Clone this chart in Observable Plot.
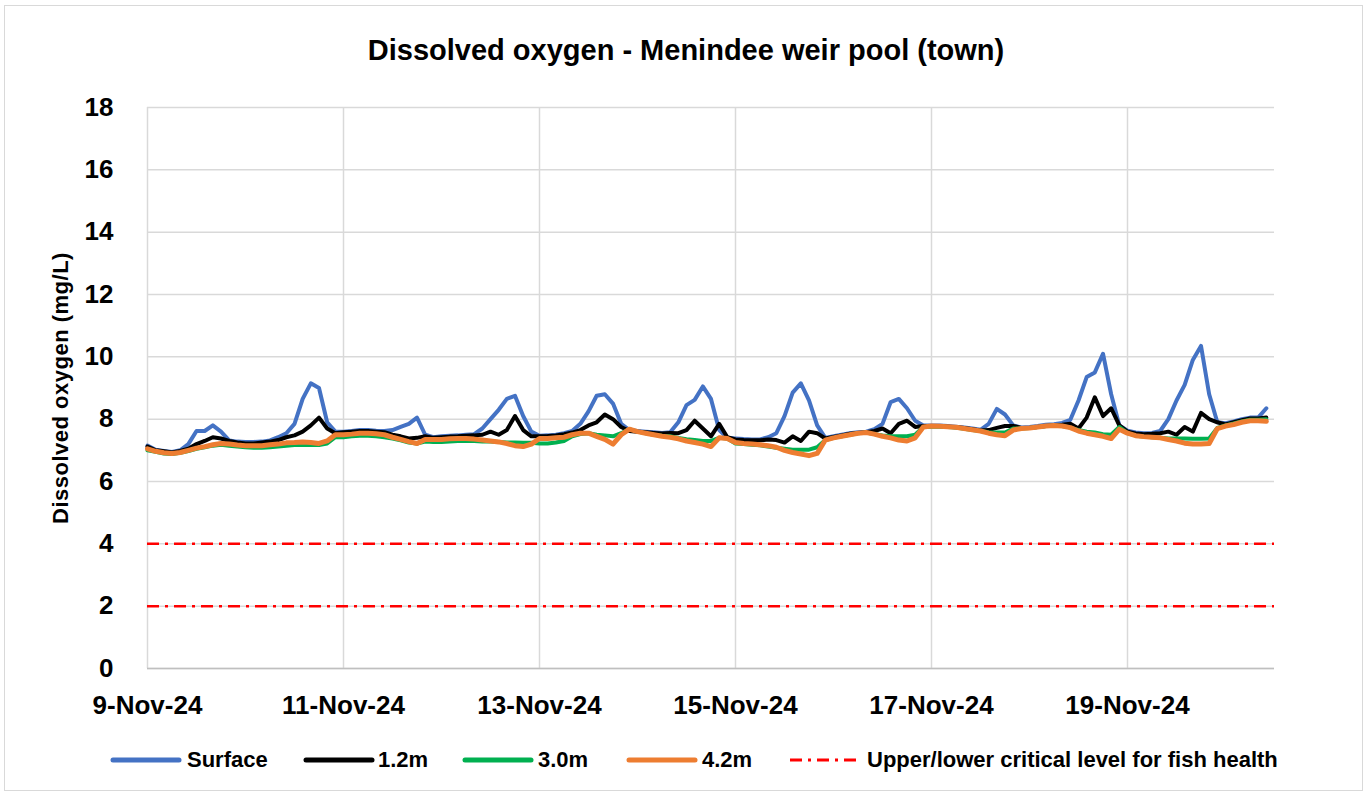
<!DOCTYPE html>
<html><head><meta charset="utf-8">
<script src="https://cdn.jsdelivr.net/npm/d3@7"></script>
<script src="https://cdn.jsdelivr.net/npm/@observablehq/plot@0.6"></script>
<style>
body{margin:0;background:#fff;font-family:"Liberation Sans",Arial,sans-serif;}
#wrap{position:relative;width:1369px;height:796px;overflow:hidden;background:#fff;}
#frame{position:absolute;left:4px;top:5px;width:1359px;height:786px;border:1px solid #d9d9d9;box-sizing:border-box;}
#title{position:absolute;left:0;width:1372px;top:34px;text-align:center;font-weight:bold;font-size:29px;color:#000;}
#ylabel{position:absolute;left:61px;top:388px;transform:translate(-50%,-50%) rotate(-90deg);font-weight:bold;font-size:22px;letter-spacing:0.5px;white-space:nowrap;}
#chart{position:absolute;left:0;top:0;}
.leg{position:absolute;top:760px;transform:translateY(-50%);font-weight:bold;font-size:22px;white-space:nowrap;line-height:1;}
.sw{position:absolute;top:760px;transform:translateY(-50%);}
</style>
</head><body>
<div id="wrap">
  <div id="frame"></div>
  <div id="chart"></div>
  <div id="title">Dissolved oxygen - Menindee weir pool (town)</div>
  <div id="ylabel">Dissolved oxygen (mg/L)</div>
  <div id="legend"></div>
</div>
<script>
// ---- Data (2-hourly readings starting 9-Nov-24 00:00) ----
const seriesNames = ["Surface", "1.2m", "3.0m", "4.2m"];
const seriesColors = ["#4472C4", "#000000", "#00B050", "#ED7D31"];
const criticalLabel = "Upper/lower critical level for fish health";
const criticalLevels = [4, 2];
const yTicks = [0, 2, 4, 6, 8, 10, 12, 14, 16, 18];
const xTickDates = ["2024-11-09", "2024-11-11", "2024-11-13", "2024-11-15", "2024-11-17", "2024-11-19"];
const startTime = "2024-11-09T00:00:00Z";
const endTime = "2024-11-20T12:00:00Z";

const surface = [
  7.15, 7.02, 6.98, 6.95, 7.0, 7.2, 7.62, 7.62, 7.8, 7.6, 7.32, 7.28,
  7.27, 7.27, 7.28, 7.32, 7.42, 7.55, 7.85, 8.65, 9.15, 9.0, 7.9, 7.6,
  7.6, 7.62, 7.65, 7.65, 7.63, 7.62, 7.65, 7.75, 7.85, 8.05, 7.5, 7.42,
  7.45, 7.47, 7.48, 7.5, 7.52, 7.7, 8.0, 8.3, 8.65, 8.75, 8.1, 7.6,
  7.47, 7.48, 7.5, 7.55, 7.62, 7.85, 8.25, 8.75, 8.8, 8.5, 7.85, 7.65,
  7.62, 7.6, 7.58, 7.56, 7.58, 7.9, 8.45, 8.62, 9.05, 8.65, 7.65, 7.4,
  7.38, 7.36, 7.35, 7.35, 7.42, 7.55, 8.1, 8.85, 9.15, 8.6, 7.8, 7.4,
  7.45, 7.5, 7.55, 7.58, 7.6, 7.68, 7.85, 8.55, 8.65, 8.35, 7.95, 7.8,
  7.8, 7.8, 7.78, 7.76, 7.73, 7.7, 7.66, 7.85, 8.33, 8.15, 7.8, 7.73,
  7.75, 7.78, 7.82, 7.84, 7.88, 7.98, 8.6, 9.35, 9.5, 10.1, 8.8, 7.8,
  7.63, 7.57, 7.55, 7.56, 7.62, 8.0, 8.6, 9.1, 9.9, 10.35, 8.8, 7.9,
  7.87, 7.93, 8.0, 8.05, 8.05, 8.35
];
const m12 = [
  7.12, 7.0, 6.97, 6.93, 6.98, 7.05, 7.2, 7.3, 7.42, 7.38, 7.3, 7.25,
  7.22, 7.22, 7.25, 7.28, 7.33, 7.42, 7.48, 7.6, 7.8, 8.05, 7.7, 7.55,
  7.58, 7.6, 7.62, 7.62, 7.6, 7.58, 7.5, 7.45, 7.38, 7.4, 7.45, 7.4,
  7.42, 7.44, 7.45, 7.47, 7.48, 7.5, 7.6, 7.5, 7.65, 8.1, 7.65, 7.45,
  7.45, 7.46, 7.48, 7.52, 7.57, 7.65, 7.8, 7.9, 8.15, 8.0, 7.75, 7.62,
  7.6, 7.58, 7.56, 7.54, 7.56, 7.55, 7.65, 7.95, 7.7, 7.45, 7.85, 7.42,
  7.35, 7.33, 7.32, 7.32, 7.35, 7.33, 7.25, 7.45, 7.3, 7.6, 7.55, 7.38,
  7.43, 7.48, 7.53, 7.56, 7.58, 7.62, 7.7, 7.55, 7.85, 7.95, 7.75, 7.78,
  7.78, 7.78, 7.76, 7.74, 7.72, 7.68, 7.64, 7.65, 7.72, 7.78, 7.78, 7.72,
  7.72, 7.75, 7.78, 7.8, 7.82, 7.85, 7.7, 8.05, 8.7, 8.1, 8.35, 7.8,
  7.6, 7.54, 7.52, 7.53, 7.55, 7.6, 7.5, 7.75, 7.6, 8.2, 8.0, 7.9,
  7.83, 7.9, 7.97, 8.02, 8.02, 8.05
];
const m30 = [
  7.0, 6.95, 6.9, 6.88, 6.92, 6.98, 7.05, 7.1, 7.15, 7.18, 7.15, 7.12,
  7.1, 7.08, 7.08, 7.1, 7.12, 7.15, 7.17, 7.18, 7.17, 7.17, 7.22, 7.42,
  7.42, 7.45, 7.47, 7.47, 7.45, 7.42, 7.38, 7.32, 7.25, 7.22, 7.28, 7.27,
  7.27, 7.28, 7.3, 7.3, 7.3, 7.28, 7.28, 7.27, 7.25, 7.25, 7.24, 7.24,
  7.22, 7.22, 7.25, 7.3, 7.45, 7.52, 7.55, 7.5, 7.48, 7.45, 7.55, 7.68,
  7.6, 7.55, 7.5, 7.47, 7.45, 7.4, 7.36, 7.33, 7.3, 7.3, 7.4, 7.38,
  7.22, 7.2, 7.18, 7.16, 7.12, 7.08, 7.05, 7.02, 7.02, 7.02, 7.1, 7.33,
  7.4, 7.45, 7.5, 7.55, 7.57, 7.52, 7.48, 7.45, 7.45, 7.45, 7.5, 7.75,
  7.76, 7.76, 7.75, 7.73, 7.69, 7.65, 7.62, 7.58, 7.57, 7.57, 7.7, 7.7,
  7.72, 7.75, 7.78, 7.8, 7.78, 7.73, 7.65, 7.6, 7.57, 7.52, 7.5, 7.75,
  7.55, 7.47, 7.44, 7.42, 7.4, 7.38, 7.38, 7.38, 7.37, 7.37, 7.38, 7.72,
  7.8, 7.86, 7.93, 7.98, 7.98, 8.0
];
const m42 = [
  7.05, 6.97, 6.92, 6.9, 6.93, 7.0, 7.07, 7.12, 7.18, 7.22, 7.2, 7.17,
  7.15, 7.15, 7.15, 7.18, 7.2, 7.24, 7.25, 7.27, 7.25, 7.22, 7.3, 7.5,
  7.5, 7.52, 7.55, 7.55, 7.53, 7.5, 7.42, 7.35, 7.28, 7.22, 7.35, 7.35,
  7.35, 7.37, 7.38, 7.38, 7.36, 7.33, 7.3, 7.27, 7.22, 7.15, 7.12, 7.2,
  7.38, 7.38, 7.4, 7.42, 7.5, 7.55, 7.55, 7.45, 7.35, 7.2, 7.5, 7.68,
  7.6, 7.55, 7.5, 7.45, 7.42, 7.37, 7.3, 7.25, 7.2, 7.12, 7.4, 7.38,
  7.25, 7.22, 7.2, 7.18, 7.15, 7.1, 7.0, 6.93, 6.88, 6.83, 6.9, 7.33,
  7.4, 7.45, 7.5, 7.55, 7.57, 7.52, 7.45, 7.4, 7.33, 7.3, 7.4, 7.75,
  7.78, 7.77, 7.76, 7.74, 7.7, 7.66, 7.62, 7.55, 7.5, 7.47, 7.65, 7.7,
  7.72, 7.75, 7.78, 7.8, 7.78, 7.73, 7.62, 7.55, 7.5, 7.45, 7.38, 7.68,
  7.55, 7.47, 7.44, 7.42, 7.4, 7.35, 7.3, 7.23, 7.2, 7.2, 7.22, 7.7,
  7.78, 7.83, 7.9, 7.95, 7.95, 7.93
];

// ---- Build table ----
const t0 = new Date(startTime).getTime();
const STEP = 2 * 3600 * 1000;
const allSeries = [surface, m12, m30, m42];
const rows = [];
allSeries.forEach((arr, si) => arr.forEach((v, i) => rows.push({t: new Date(t0 + i * STEP), v, s: seriesNames[si]})));

const fmt = d3.utcFormat("%-d-%b-%y");
const xTicks = xTickDates.map(d => new Date(d + "T00:00:00Z"));
const FONT = '"Liberation Sans", Arial, sans-serif';
const widths = [4, 4, 4, 5];

const chart = Plot.plot({
  width: 1369,
  height: 720,
  marginLeft: 147,
  marginRight: 95,
  marginTop: 107,
  marginBottom: 52,
  style: {fontFamily: FONT, fontWeight: "bold", fontSize: "26px", background: "transparent", color: "#000"},
  x: {type: "utc", domain: [new Date(startTime), new Date(endTime)]},
  y: {domain: [0, 18]},
  marks: [
    Plot.gridY(yTicks, {stroke: "#d9d9d9", strokeOpacity: 1, strokeWidth: 1.5}),
    Plot.gridX(xTicks, {stroke: "#d9d9d9", strokeOpacity: 1, strokeWidth: 1.5}),
    Plot.ruleY([0], {stroke: "#bfbfbf", strokeWidth: 1.5}),
    Plot.axisY(yTicks, {tickSize: 0, tickPadding: 34, label: null, fontSize: 26, fontWeight: "bold"}),
    Plot.axisX(xTicks, {tickSize: 0, tickPadding: 27, tickFormat: fmt, label: null, fontSize: 26, fontWeight: "bold"}),
    Plot.ruleY(criticalLevels, {stroke: "#ff0000", strokeWidth: 2.5, strokeDasharray: "12,6,3,6"}),
    ...seriesNames.map((name, i) => Plot.lineY(rows.filter(r => r.s === name), {
      x: "t", y: "v", stroke: seriesColors[i], strokeWidth: widths[i], strokeLinejoin: "round", strokeLinecap: "round"
    }))
  ]
});
document.getElementById("chart").appendChild(chart);

// ---- Legend ----
const legendPos = [
  {sw: 110, tx: 187}, {sw: 303, tx: 378}, {sw: 462, tx: 538}, {sw: 626, tx: 702}
];
const lg = document.getElementById("legend");
let html = "";
seriesNames.forEach((n, i) => {
  html += `<svg class="sw" style="left:${legendPos[i].sw}px" width="72" height="8"><line x1="3" y1="4" x2="69" y2="4" stroke="${seriesColors[i]}" stroke-width="5" stroke-linecap="round"/></svg>`;
  html += `<div class="leg" style="left:${legendPos[i].tx}px">${n}</div>`;
});
html += `<svg class="sw" style="left:788px" width="70" height="8"><line x1="2" y1="4" x2="68" y2="4" stroke="#ff0000" stroke-width="3" stroke-dasharray="12,6,3,6"/></svg>`;
html += `<div class="leg" style="left:867px">${criticalLabel}</div>`;
lg.innerHTML = html;
</script>
</body></html>
